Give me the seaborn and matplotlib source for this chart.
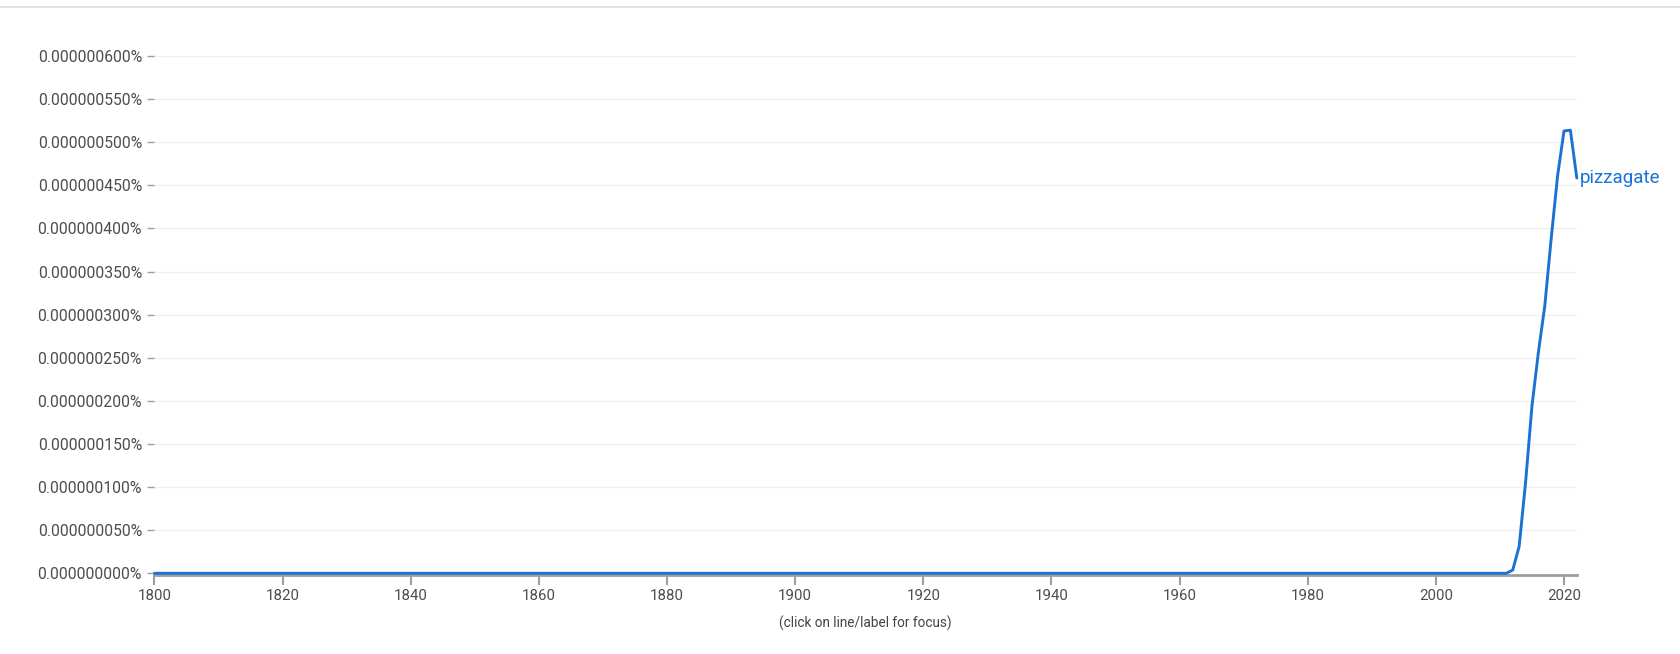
import numpy as np
import pandas as pd
import seaborn as sns
import matplotlib.pyplot as plt
from matplotlib.ticker import FuncFormatter, MultipleLocator

# data (percent of ngrams, in units of 1e-6 %)
years = list(range(1800, 2023))
late_years = [2011, 2012, 2013, 2014, 2015, 2016, 2017, 2018, 2019, 2020, 2021, 2022]
late_values = [0.0, 0.0038, 0.031, 0.105, 0.194, 0.256, 0.310, 0.388, 0.461, 0.513, 0.514, 0.4585]

values = [0.0] * len(years)
for y, v in zip(late_years, late_values):
    values[years.index(y)] = v * 1e-6

df = pd.DataFrame({'year': years, 'freq': values})

sns.set_style('white')
plt.rcParams['font.family'] = ['Roboto', 'DejaVu Sans']

fig = plt.figure(figsize=(16.81, 6.54), dpi=100)
ax = fig.add_axes([154.5 / 1681, 80.7 / 654, (1576.8 - 154.5) / 1681, (573.3 - 56) / 654])

line_color = '#1a73d4'
sns.lineplot(data=df, x='year', y='freq', ax=ax, color=line_color, linewidth=2.1,
             zorder=3, clip_on=False, solid_joinstyle='round')

ax.set_xlim(1800, 2022)
ax.set_ylim(0, 0.6e-6)
ax.xaxis.set_major_locator(MultipleLocator(20))
ax.yaxis.set_major_locator(MultipleLocator(0.05e-6))
ax.yaxis.set_major_formatter(FuncFormatter(lambda v, p: '{:.9f}%'.format(v)))
ax.set_xlabel('')
ax.set_ylabel('')

ax.grid(axis='y', color='#f0f0f0', linewidth=1)
ax.grid(axis='x', visible=False)
for s in ['top', 'right', 'left']:
    ax.spines[s].set_visible(False)
ax.spines['bottom'].set_color('#9e9e9e')
ax.spines['bottom'].set_linewidth(2)
ax.spines['bottom'].set_zorder(1)
ax.spines['bottom'].set_position(('outward', 1))

ax.tick_params(axis='y', direction='out', length=5, width=1, color='#9e9e9e',
               pad=4, labelsize=11.3, labelcolor='#4d4d4d', left=True)
ax.tick_params(axis='x', direction='out', length=7, width=1.5, color='#9e9e9e',
               pad=3, labelsize=10.8, labelcolor='#4d4d4d', bottom=True)

ax.text(2022.5, df['freq'].iloc[-1], 'pizzagate', color=line_color, fontsize=13.5,
        va='center', ha='left', clip_on=False)

fig.text(865 / 1681, 1 - 623 / 654, '(click on line/label for focus)', ha='center',
         va='center', fontsize=9.8, color='#444444')

fig.add_artist(plt.Line2D([0, 1], [1 - 7.3 / 654, 1 - 7.3 / 654], color='#dddddd',
                          linewidth=1.2, transform=fig.transFigure))

fig.savefig('out.png', dpi=100)
